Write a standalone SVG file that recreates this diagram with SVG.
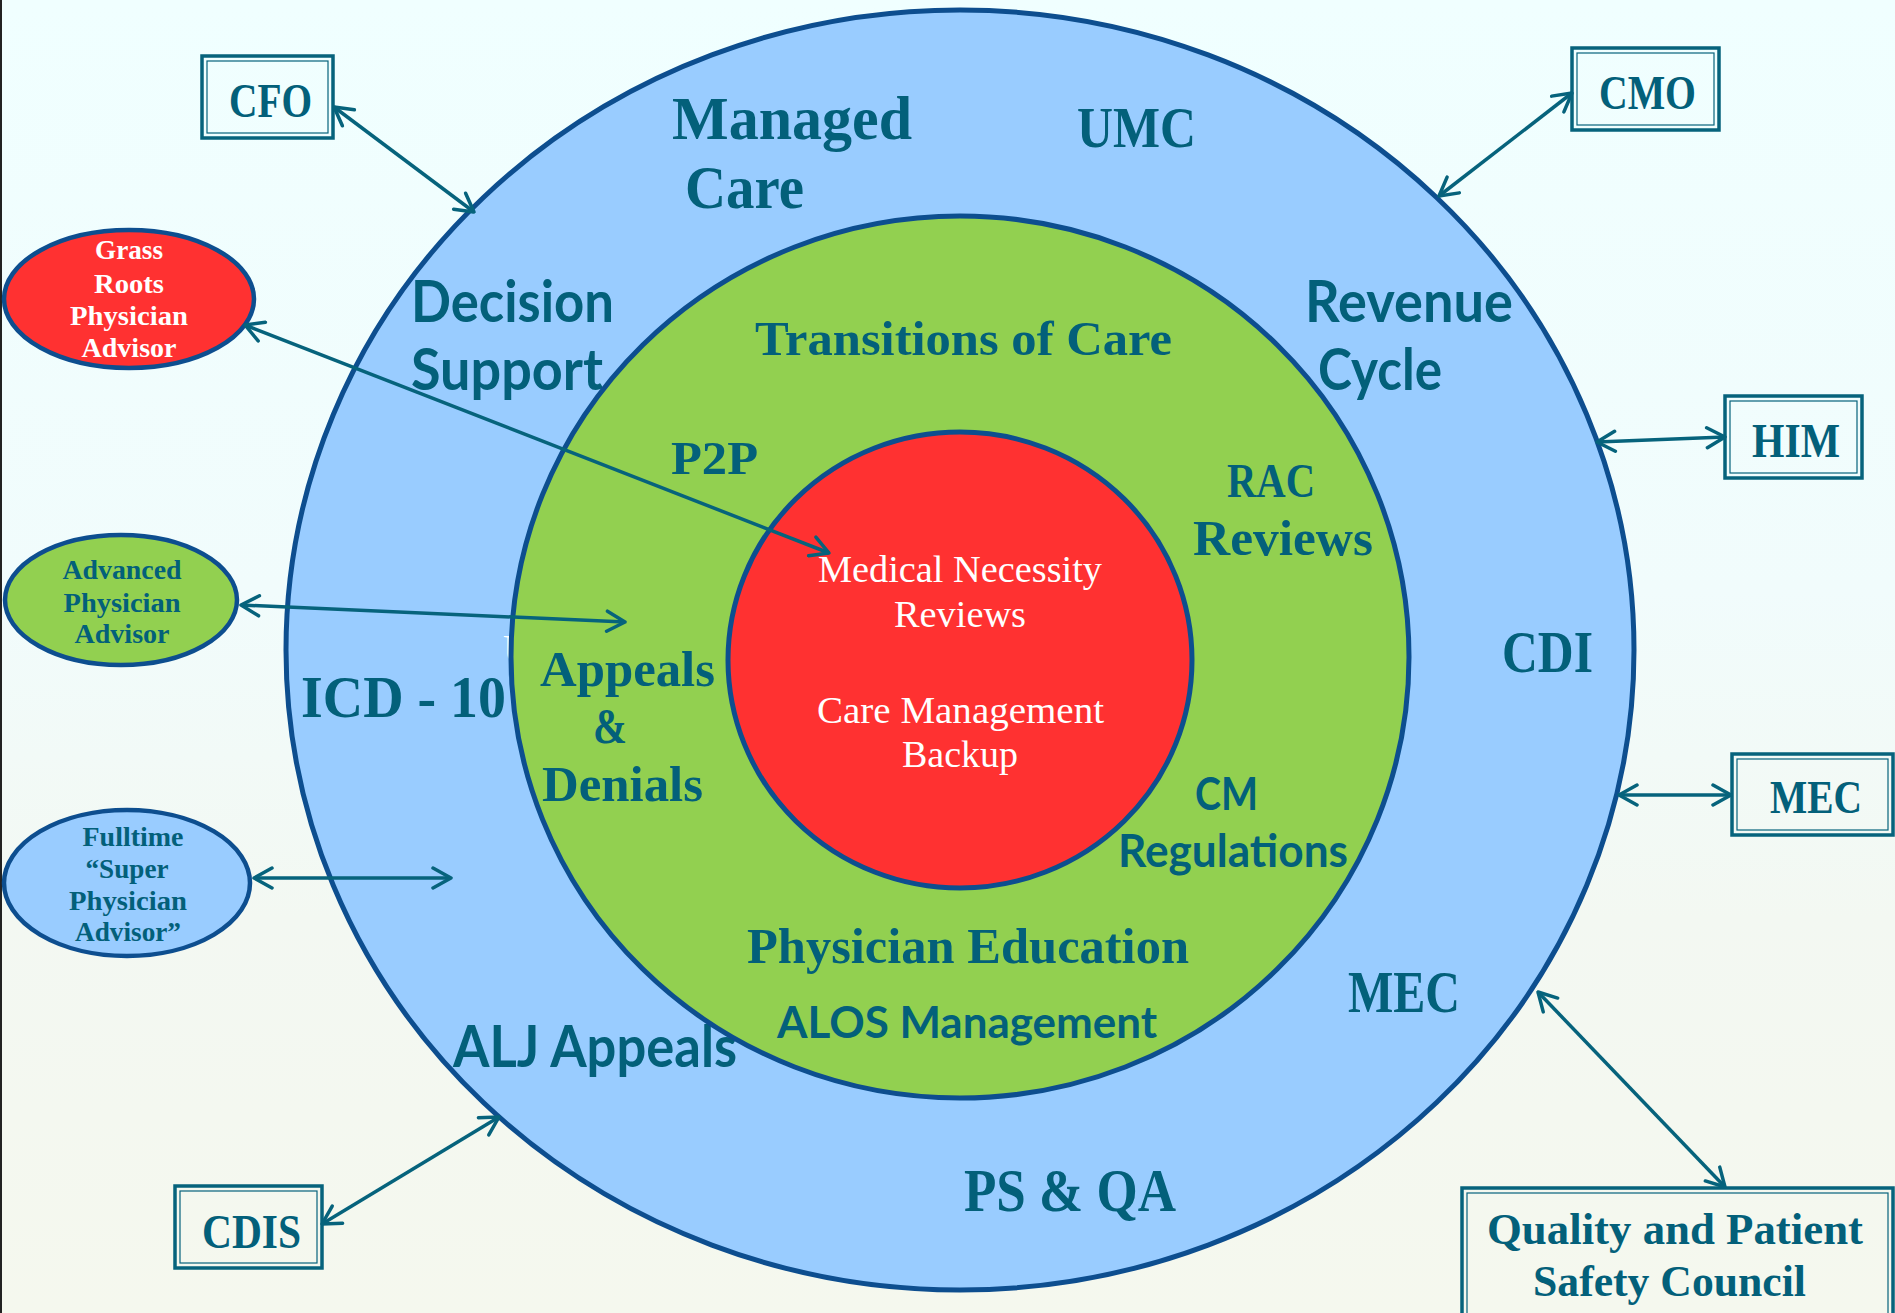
<svg xmlns="http://www.w3.org/2000/svg" width="1895" height="1313" viewBox="0 0 1895 1313">
<defs>
<linearGradient id="bg" x1="0" y1="0" x2="0" y2="1">
<stop offset="0" stop-color="#F0FFFF"/>
<stop offset="0.45" stop-color="#F1FCFC"/>
<stop offset="0.7" stop-color="#F3F8F2"/>
<stop offset="1" stop-color="#F5F8EE"/>
</linearGradient>
<marker id="ah" viewBox="-22 -12 24 24" refX="0" refY="0" markerWidth="24" markerHeight="24" markerUnits="userSpaceOnUse" orient="auto-start-reverse">
<path d="M-18,-10 L0,0 L-18,10" fill="none" stroke="#06637C" stroke-width="3.5" stroke-linecap="round" stroke-linejoin="round"/>
</marker>
</defs>
<style>
.ring{stroke:#0D4E8F;stroke-width:5}
.sf{font-family:"Liberation Serif","DejaVu Serif",serif;font-weight:bold;fill:#03607A}
.ss{font-family:"Lato","Open Sans","Liberation Sans",sans-serif;font-weight:bold;fill:#03607A}
.wt{font-family:"Liberation Serif","DejaVu Serif",serif;fill:#FFFFFF}
.wb{font-family:"Liberation Serif","DejaVu Serif",serif;font-weight:bold;fill:#FFFFFF}
.box{fill:none;stroke:#06637C;stroke-width:3.5}
.boxi{fill:none;stroke:#06637C;stroke-width:1.2}
.oval{stroke:#0D4E8F;stroke-width:4.5}
.conn{stroke:#06637C;stroke-width:3.5;fill:none;marker-start:url(#ah);marker-end:url(#ah)}
</style>
<rect x="0" y="0" width="1895" height="1313" fill="url(#bg)"/>
<rect x="0" y="0" width="2" height="1313" fill="#222"/>

<g id="outer-ring">
<ellipse class="ring" cx="960" cy="650" rx="674" ry="640" fill="#99CCFF"/>
<text class="wt" x="503" y="662" font-size="40">U</text>
<text class="sf" x="672" y="139" font-size="61" textLength="240" lengthAdjust="spacingAndGlyphs">Managed</text>
<text class="sf" x="685" y="208" font-size="61" textLength="119" lengthAdjust="spacingAndGlyphs">Care</text>
<text class="sf" x="1077" y="147" font-size="57" textLength="119" lengthAdjust="spacingAndGlyphs">UMC</text>
<text class="ss" x="411" y="322" font-size="57" textLength="203" lengthAdjust="spacingAndGlyphs">Decision</text>
<text class="ss" x="411" y="390" font-size="57" textLength="192" lengthAdjust="spacingAndGlyphs">Support</text>
<text class="ss" x="1305" y="322" font-size="57" textLength="208" lengthAdjust="spacingAndGlyphs">Revenue</text>
<text class="ss" x="1318" y="390" font-size="57" textLength="124" lengthAdjust="spacingAndGlyphs">Cycle</text>
<text class="sf" x="1502" y="672" font-size="59" textLength="91" lengthAdjust="spacingAndGlyphs">CDI</text>
<text class="sf" x="301" y="717" font-size="59" textLength="205" lengthAdjust="spacingAndGlyphs">ICD - 10</text>
<text class="sf" x="1348" y="1012" font-size="59" textLength="112" lengthAdjust="spacingAndGlyphs">MEC</text>
<text class="ss" x="453" y="1067" font-size="57" textLength="284" lengthAdjust="spacingAndGlyphs">ALJ Appeals</text>
<text class="sf" x="964" y="1211" font-size="61" textLength="212" lengthAdjust="spacingAndGlyphs">PS &amp; QA</text>
</g>

<g id="middle-ring">
<ellipse class="ring" cx="960" cy="657" rx="449" ry="441" fill="#92D050"/>
<text class="sf" x="755" y="355" font-size="49" textLength="417" lengthAdjust="spacingAndGlyphs">Transitions of Care</text>
<text class="sf" x="671" y="474" font-size="47" textLength="87" lengthAdjust="spacingAndGlyphs">P2P</text>
<text class="sf" x="1227" y="497" font-size="49" textLength="88" lengthAdjust="spacingAndGlyphs">RAC</text>
<text class="sf" x="1193" y="555" font-size="51" textLength="180" lengthAdjust="spacingAndGlyphs">Reviews</text>
<text class="sf" x="540" y="686" font-size="51" textLength="175" lengthAdjust="spacingAndGlyphs">Appeals</text>
<text class="sf" x="593" y="743" font-size="51" textLength="34" lengthAdjust="spacingAndGlyphs">&amp;</text>
<text class="sf" x="542" y="801" font-size="51" textLength="161" lengthAdjust="spacingAndGlyphs">Denials</text>
<text class="ss" x="1195" y="810" font-size="46" textLength="63" lengthAdjust="spacingAndGlyphs">CM</text>
<text class="ss" x="1118" y="867" font-size="46" textLength="230" lengthAdjust="spacingAndGlyphs">Regulations</text>
<text class="sf" x="747" y="963" font-size="51" textLength="442" lengthAdjust="spacingAndGlyphs">Physician Education</text>
<text class="ss" x="777" y="1038" font-size="44" textLength="380" lengthAdjust="spacingAndGlyphs">ALOS Management</text>
</g>

<g id="core">
<ellipse class="ring" cx="960" cy="660" rx="232" ry="228" fill="#FF3131"/>
<text class="wt" x="818" y="582" font-size="37" textLength="284" lengthAdjust="spacingAndGlyphs">Medical Necessity</text>
<text class="wt" x="894" y="627" font-size="37" textLength="132" lengthAdjust="spacingAndGlyphs">Reviews</text>
<text class="wt" x="817" y="723" font-size="37" textLength="287" lengthAdjust="spacingAndGlyphs">Care Management</text>
<text class="wt" x="902" y="767" font-size="37" textLength="116" lengthAdjust="spacingAndGlyphs">Backup</text>
</g>

<g id="cfo">
<rect class="box" x="202" y="56" width="131" height="82"/>
<rect class="boxi" x="207" y="61" width="121" height="72"/>
<text class="sf" x="229" y="117" font-size="49" textLength="83" lengthAdjust="spacingAndGlyphs">CFO</text>
</g>
<g id="cmo">
<rect class="box" x="1572" y="48" width="147" height="82"/>
<rect class="boxi" x="1577" y="53" width="137" height="72"/>
<text class="sf" x="1599" y="109" font-size="48" textLength="97" lengthAdjust="spacingAndGlyphs">CMO</text>
</g>
<g id="him">
<rect class="box" x="1725" y="396" width="137" height="82"/>
<rect class="boxi" x="1730" y="401" width="127" height="72"/>
<text class="sf" x="1752" y="457" font-size="48" textLength="88" lengthAdjust="spacingAndGlyphs">HIM</text>
</g>
<g id="mec">
<rect class="box" x="1732" y="754" width="161" height="81"/>
<rect class="boxi" x="1737" y="759" width="151" height="71"/>
<text class="sf" x="1770" y="813" font-size="47" textLength="92" lengthAdjust="spacingAndGlyphs">MEC</text>
</g>
<g id="qpsc">
<rect class="box" x="1462" y="1188" width="431" height="140"/>
<rect class="boxi" x="1467" y="1193" width="421" height="130"/>
<text class="sf" x="1487" y="1244" font-size="45" textLength="376" lengthAdjust="spacingAndGlyphs">Quality and Patient</text>
<text class="sf" x="1533" y="1296" font-size="45" textLength="273" lengthAdjust="spacingAndGlyphs">Safety Council</text>
</g>
<g id="cdis">
<rect class="box" x="175" y="1186" width="147" height="82"/>
<rect class="boxi" x="180" y="1191" width="137" height="72"/>
<text class="sf" x="202" y="1248" font-size="48" textLength="99" lengthAdjust="spacingAndGlyphs">CDIS</text>
</g>

<g id="grass-roots">
<ellipse class="oval" cx="129" cy="299" rx="125" ry="69" fill="#FF3131"/>
<text class="wb" x="129" y="259" font-size="28" text-anchor="middle" textLength="68" lengthAdjust="spacingAndGlyphs">Grass</text>
<text class="wb" x="129" y="293" font-size="28" text-anchor="middle" textLength="70" lengthAdjust="spacingAndGlyphs">Roots</text>
<text class="wb" x="129" y="325" font-size="28" text-anchor="middle" textLength="118" lengthAdjust="spacingAndGlyphs">Physician</text>
<text class="wb" x="129" y="357" font-size="28" text-anchor="middle" textLength="95" lengthAdjust="spacingAndGlyphs">Advisor</text>
</g>
<g id="advanced">
<ellipse class="oval" cx="121" cy="600" rx="116" ry="65" fill="#92D050"/>
<text class="sf" x="122" y="579" font-size="28" text-anchor="middle" textLength="119" lengthAdjust="spacingAndGlyphs">Advanced</text>
<text class="sf" x="122" y="612" font-size="28" text-anchor="middle" textLength="117" lengthAdjust="spacingAndGlyphs">Physician</text>
<text class="sf" x="122" y="643" font-size="28" text-anchor="middle" textLength="95" lengthAdjust="spacingAndGlyphs">Advisor</text>
</g>
<g id="fulltime">
<ellipse class="oval" cx="127" cy="883" rx="123" ry="73" fill="#99CCFF"/>
<text class="sf" x="133" y="846" font-size="28" text-anchor="middle" textLength="101" lengthAdjust="spacingAndGlyphs">Fulltime</text>
<text class="sf" x="127" y="878" font-size="28" text-anchor="middle" textLength="83" lengthAdjust="spacingAndGlyphs">“Super</text>
<text class="sf" x="128" y="910" font-size="28" text-anchor="middle" textLength="118" lengthAdjust="spacingAndGlyphs">Physician</text>
<text class="sf" x="128" y="941" font-size="28" text-anchor="middle" textLength="106" lengthAdjust="spacingAndGlyphs">Advisor”</text>
</g>

<g id="connectors">
<line class="conn" x1="334" y1="107" x2="474" y2="212"/>
<line class="conn" x1="1572" y1="93" x2="1439" y2="196"/>
<line class="conn" x1="1597" y1="442" x2="1725" y2="437"/>
<line class="conn" x1="1619" y1="795" x2="1731" y2="795"/>
<line class="conn" x1="1538" y1="992" x2="1725" y2="1187"/>
<line class="conn" x1="322" y1="1224" x2="499" y2="1117"/>
<line class="conn" x1="254" y1="878" x2="451" y2="878"/>
<line class="conn" x1="241" y1="605" x2="625" y2="622"/>
<line class="conn" x1="245" y1="325" x2="829" y2="553"/>
</g>
</svg>
